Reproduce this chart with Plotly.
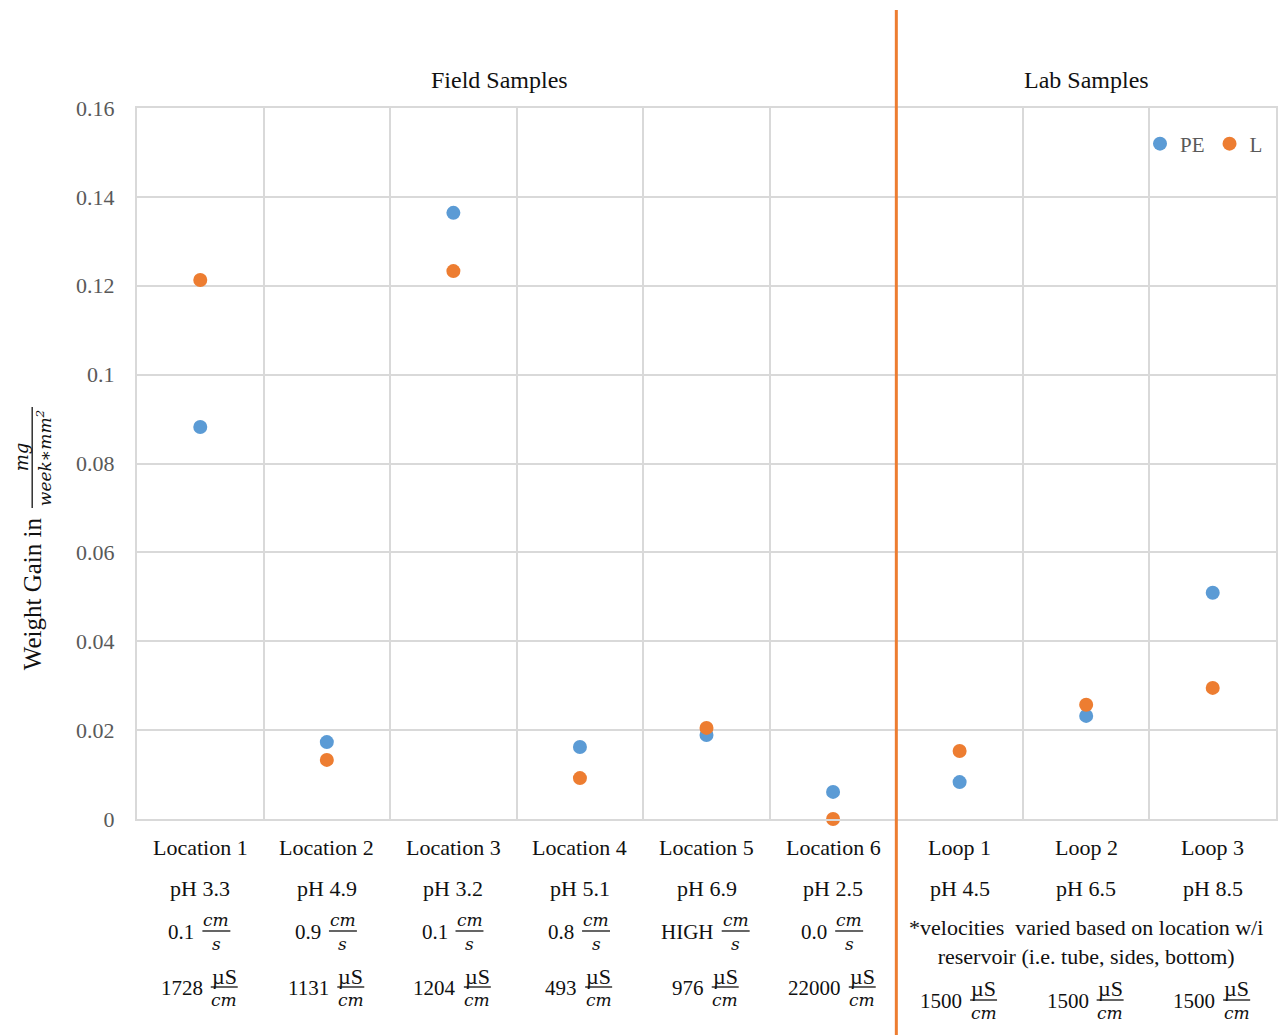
import plotly.graph_objects as go

# ---- data -------------------------------------------------------------
categories = ["Location 1", "Location 2", "Location 3", "Location 4", "Location 5",
              "Location 6", "Loop 1", "Loop 2", "Loop 3"]
pe_gain = [0.0882, 0.0173, 0.1364, 0.0162, 0.0189, 0.0061, 0.0083, 0.0232, 0.0509]
l_gain = [0.1213, 0.0133, 0.1233, 0.0092, 0.0205, 0.0, 0.0153, 0.0257, 0.0295]
ph_labels = ["pH 3.3", "pH 4.9", "pH 3.2", "pH 5.1", "pH 6.9", "pH 2.5",
             "pH 4.5", "pH 6.5", "pH 8.5"]
velocity_labels = ["0.1", "0.9", "0.1", "0.8", "HIGH", "0.0"]   # field sites only
conductivity_labels = ["1728", "1131", "1204", "493", "976", "22000",
                       "1500", "1500", "1500"]
lab_velocity_note = "*velocities  varied based on location w/i<br>reservoir (i.e. tube, sides, bottom)"
group_titles = ["Field Samples", "Lab Samples"]

# ---- geometry ---------------------------------------------------------
W, H = 1282, 1035
ML, MR, MT, MB = 137, 4, 108, 216
PW, PH = W - ML - MR, H - MT - MB
CAT_PX = PW / len(categories)

BLUE = "#5B9BD5"
ORANGE = "#ED7D31"
TEXT = "#111111"
GRAY = "#595959"
GRID = "#d9d9d9"
SERIF = "Liberation Serif"
MATH = "DejaVu Serif"


def ypap(p):
    """page pixel row -> paper y"""
    return (H - MB - p) / PH


def xpap(p):
    """page pixel column -> paper x"""
    return (p - ML) / PW


def text_width(s, size):
    em = {".": 0.25, "H": 0.722, "I": 0.333, "G": 0.722, " ": 0.25}
    return sum(em.get(c, 0.5) for c in s) * size


fig = go.Figure()
fig.add_trace(go.Scatter(x=categories, y=pe_gain, mode="markers", name="PE",
                         marker=dict(color=BLUE, size=14), cliponaxis=False))
fig.add_trace(go.Scatter(x=categories, y=l_gain, mode="markers", name="L",
                         marker=dict(color=ORANGE, size=14), cliponaxis=False))

annotations = []
shapes = []


def label(i, py, text, size=22, **kw):
    annotations.append(dict(x=categories[i], xref="x", y=ypap(py), yref="paper",
                            text=text, showarrow=False, yanchor="middle",
                            font=dict(family=SERIF, size=size, color=TEXT), **kw))


def value_with_fraction(i, y_line, value, num, den, num_font, den_font, line_w):
    vsize = 21
    gap = 6
    wv = text_width(value, vsize)
    start = -(wv + gap + line_w) / 2
    fc = start + wv + gap + line_w / 2
    label(i, y_line + 1, value, size=vsize, xanchor="right", xshift=start + wv)
    annotations.append(dict(x=categories[i], xref="x", xshift=fc, y=ypap(y_line - 11),
                            yref="paper", text=num, showarrow=False, yanchor="middle",
                            xanchor="center", font=num_font))
    annotations.append(dict(x=categories[i], xref="x", xshift=fc, y=ypap(y_line + 13),
                            yref="paper", text=den, showarrow=False, yanchor="middle",
                            xanchor="center", font=den_font))
    shapes.append(dict(type="line", xref="x", yref="paper",
                       x0=i + (fc - line_w / 2) / CAT_PX, x1=i + (fc + line_w / 2) / CAT_PX,
                       y0=ypap(y_line), y1=ypap(y_line),
                       line=dict(color=TEXT, width=1.3)))


italic = dict(family=MATH, size=17, color=TEXT, style="italic")
upright = dict(family=SERIF, size=22, color=TEXT)

for i, cat in enumerate(categories):
    label(i, 847, cat)
    label(i, 888, ph_labels[i])

for i, v in enumerate(velocity_labels):
    value_with_fraction(i, 931, v, "cm", "s", italic, italic, 28)

for i, c in enumerate(conductivity_labels):
    y_line = 987 if i < len(velocity_labels) else 1000
    value_with_fraction(i, y_line, c, "µS", "cm", upright, italic, 27)

annotations.append(dict(x=categories[7], xref="x", y=ypap(942), yref="paper",
                        text=lab_velocity_note, showarrow=False, yanchor="middle",
                        xanchor="center",
                        font=dict(family=SERIF, size=22, color=TEXT)))

# group headings
annotations.append(dict(x=xpap(500), xref="paper", y=ypap(80), yref="paper",
                        text=group_titles[0], showarrow=False,
                        xanchor="center", yanchor="middle",
                        font=dict(family=SERIF, size=24, color=TEXT)))
annotations.append(dict(x=categories[7], xref="x", y=ypap(80), yref="paper",
                        text=group_titles[1], showarrow=False,
                        xanchor="center", yanchor="middle",
                        font=dict(family=SERIF, size=24, color=TEXT)))

# y-axis title with a stacked fraction
annotations.append(dict(x=xpap(32), xref="paper", y=ypap(594), yref="paper",
                        text="Weight Gain in", textangle=-90, showarrow=False,
                        xanchor="center", yanchor="middle",
                        font=dict(family=SERIF, size=25, color=TEXT)))
annotations.append(dict(x=xpap(21), xref="paper", y=ypap(457), yref="paper",
                        text="mg", textangle=-90, showarrow=False,
                        xanchor="center", yanchor="middle",
                        font=dict(family=MATH, size=18, color=TEXT, style="italic")))
annotations.append(dict(x=xpap(44), xref="paper", y=ypap(458), yref="paper",
                        text="week∗mm<sup>2</sup>", textangle=-90, showarrow=False,
                        xanchor="center", yanchor="middle",
                        font=dict(family=MATH, size=17, color=TEXT, style="italic")))
shapes.append(dict(type="line", xref="paper", yref="paper",
                   x0=xpap(32), x1=xpap(32), y0=ypap(407), y1=ypap(508),
                   line=dict(color=TEXT, width=1.3)))

# divider between field and lab samples
shapes.append(dict(type="line", xref="x", yref="paper", x0=5.5, x1=5.5,
                   y0=ypap(H), y1=ypap(10), layer="above",
                   line=dict(color=ORANGE, width=3)))

fig.update_layout(
    width=W, height=H,
    margin=dict(l=ML, r=MR, t=MT, b=MB),
    paper_bgcolor="white", plot_bgcolor="white",
    showlegend=True,
    legend=dict(orientation="h", x=xpap(1270), xanchor="right", y=ypap(144),
                yanchor="middle", bgcolor="rgba(0,0,0,0)", itemwidth=30,
                font=dict(family=SERIF, size=21, color=GRAY), tracegroupgap=0),
    annotations=annotations,
    shapes=shapes,
)
fig.update_xaxes(type="category", range=[-0.5, 8.5], tickson="boundaries",
                 showgrid=True, gridcolor=GRID, gridwidth=2,
                 showticklabels=False, ticks="",
                 showline=True, mirror=True, linecolor=GRID, linewidth=2,
                 fixedrange=True)
fig.update_yaxes(range=[0, 0.16], dtick=0.02, showgrid=True, gridcolor=GRID, gridwidth=2,
                 zeroline=False, showline=True, mirror=True, linecolor=GRID, linewidth=2,
                 ticks="", ticklabelstandoff=16,
                 tickfont=dict(family=SERIF, size=22, color=GRAY),
                 fixedrange=True)

fig.write_html("out.html", config={"displayModeBar": False})
